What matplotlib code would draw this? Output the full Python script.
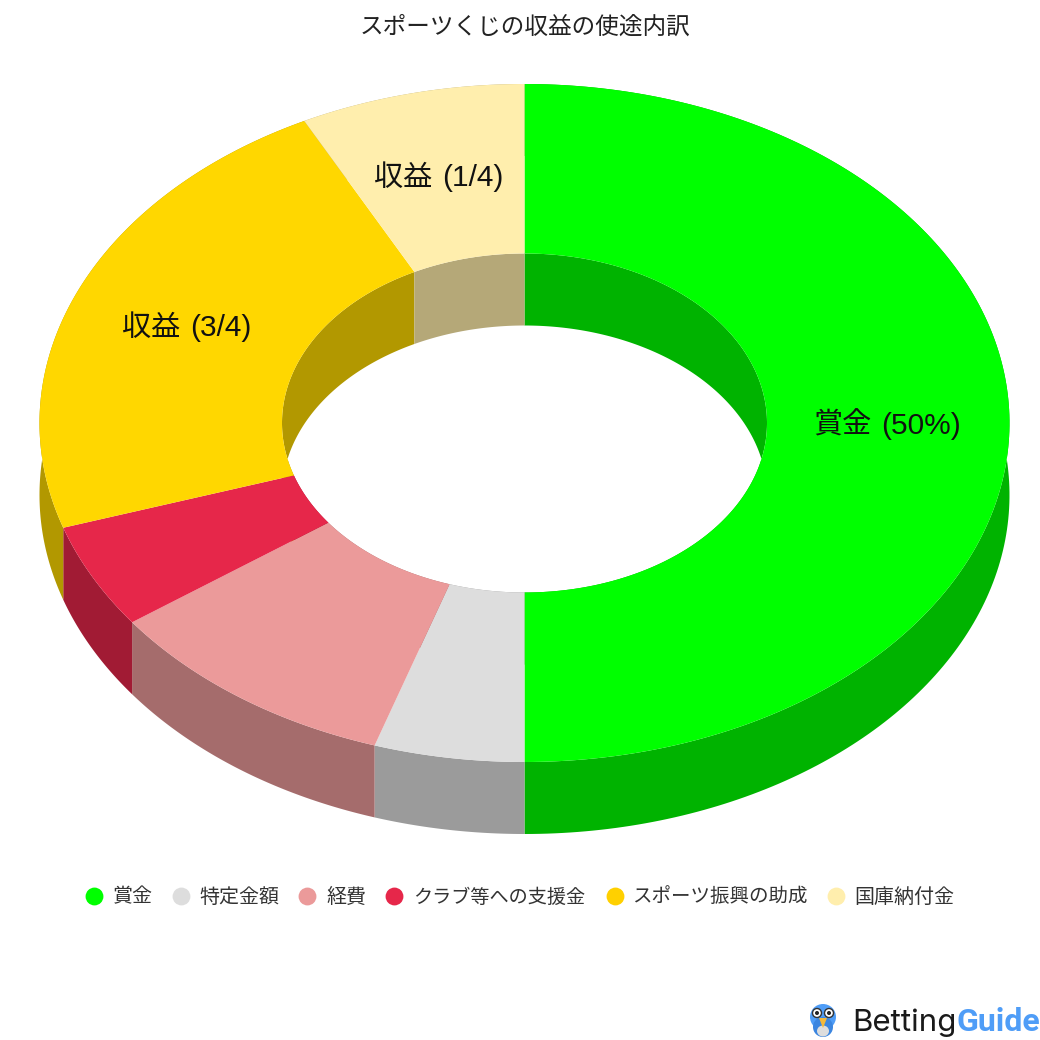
import numpy as np
import matplotlib
matplotlib.use('Agg')
import matplotlib.pyplot as plt
from matplotlib.patches import Ellipse, Polygon

plt.rcParams['font.family'] = ['Noto Sans CJK JP', 'DejaVu Sans']

title = 'スポーツくじの収益の使途内訳'
labels = ['賞金', '特定金額', '経費', 'クラブ等への支援金', 'スポーツ振興の助成', '国庫納付金']
values = [50, 5, 10, 5, 22.5, 7.5]
colors = ['#00FF00', '#DDDDDD', '#EB9A9A', '#E6274A', '#FFD700', '#FFEEAD']
wall_colors = ['#00B300', '#9B9B9B', '#A56C6C', '#A11B34', '#B29800', '#B5A878']
slice_names = ['賞金', '収益', '収益']
slice_notes = ['(50%)', '(3/4)', '(1/4)']

# donut geometry in pixels
cx, cy = 524.5, 423
rx, ry = 485, 339
hole = 0.5
depth = 72

legend_dot_x = [94, 181, 307, 394, 615, 836]
legend_text_x = [113, 199, 326, 413, 632, 854]
legend_sizes = [14.4, 14.4, 14.4, 13.8, 14, 14.4]
label_left = [813, 122, 374]
label_right = [961, 252, 503]
label_y = [426, 328, 178]


def arc(t0, t1, k, dy=0):
    t = np.radians(np.linspace(t0, t1, 200))
    return np.column_stack([cx + k * rx * np.sin(t), cy - k * ry * np.cos(t) + dy])


fig = plt.figure(figsize=(10.4, 10.4), dpi=100)
ax = fig.add_axes([0, 0, 1, 1])
ax.set_xlim(0, 1040)
ax.set_ylim(1040, 0)
ax.axis('off')

edges = np.concatenate([[0], np.cumsum(values)]) / sum(values) * 360

# outer walls, inner walls, then the top face over them
for i in range(len(values)):
    a, b = edges[i], edges[i + 1]
    wall = np.vstack([arc(a, b, 1), arc(b, a, 1, depth)])
    ax.add_patch(Polygon(wall, fc=wall_colors[i], ec='none', zorder=1))
for i in range(len(values)):
    a, b = edges[i], edges[i + 1]
    wall = np.vstack([arc(a, b, hole), arc(b, a, hole, depth)])
    ax.add_patch(Polygon(wall, fc=wall_colors[i], ec='none', zorder=2))
for i in range(len(values)):
    a, b = edges[i], edges[i + 1]
    ring = np.vstack([arc(a, b, 1), arc(b, a, hole)])
    ax.add_patch(Polygon(ring, fc=colors[i], ec='none', zorder=3))

ax.text(525, 27, title, ha='center', va='center', fontsize=17, color='#222222')

for i in range(3):
    ax.text(label_left[i], label_y[i], slice_names[i], ha='left', va='center', fontsize=21,
            color='#111111', zorder=5)
    ax.text(label_right[i], label_y[i], slice_notes[i], ha='right', va='center', fontsize=21.5,
            family='Liberation Sans', color='#111111', zorder=5)

for i in range(len(labels)):
    ax.scatter(legend_dot_x[i], 896, s=165, color=colors[i] if colors[i] != '#FFD700' else '#FFD000',
               linewidths=0, zorder=5)
    ax.text(legend_text_x[i], 897, labels[i], ha='left', va='center', fontsize=legend_sizes[i],
            color='#333333')

# logo
ax.add_patch(Ellipse((823, 1017), 26, 26, fc='#4F9DF7', ec='none', zorder=5))
ax.add_patch(Ellipse((823, 1027), 20, 20, fc='#3C86E0', ec='none', zorder=5))
ax.add_patch(Ellipse((823, 1031), 12, 11, fc='#DDDDDD', ec='none', zorder=6))
ax.add_patch(Ellipse((817, 1013), 9, 9, fc='white', ec='#333333', lw=1, zorder=6))
ax.add_patch(Ellipse((829, 1013), 9, 9, fc='white', ec='#333333', lw=1, zorder=6))
ax.add_patch(Ellipse((817, 1013), 4, 4, fc='#222222', ec='none', zorder=7))
ax.add_patch(Ellipse((829, 1013), 4, 4, fc='#222222', ec='none', zorder=7))
ax.add_patch(Polygon([[819, 1018], [827, 1018], [823, 1028]], fc='#F5B93A', ec='none', zorder=7))
ax.text(852, 1031, 'Betting', family='Inter', fontsize=22.5, color='#1A1A1A', ha='left', va='baseline')
ax.text(957, 1031, 'Guide', family='Roboto', fontsize=23, fontweight='bold', color='#4F9DF7',
        ha='left', va='baseline')

fig.savefig('out.png', dpi=100)
